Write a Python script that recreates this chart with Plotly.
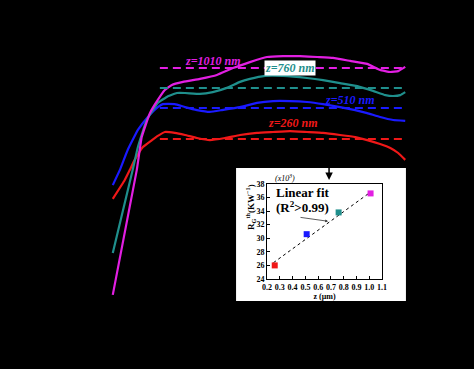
import plotly.graph_objects as go

# ---- main panel data (arbitrary units, axes are black on black in the reference) ----
mag_x = [0, 8.2, 9.9, 12.7, 15.4, 17.8, 20.2, 24.0, 29.8, 35.6, 41.1, 46.9, 52.7, 58.2, 64.0, 69.9, 75.3, 81.2, 87.0, 91.4, 94.9, 97.6, 100]
mag_y = [11.7, 53.3, 64.3, 72.3, 76.7, 80.0, 81.7, 82.7, 83.7, 85.0, 87.3, 89.3, 91.0, 91.3, 91.3, 91.0, 90.7, 89.7, 88.7, 86.7, 86.0, 86.3, 87.7]

teal_x = [0, 6.8, 8.6, 11.6, 15.4, 18.5, 21.9, 24.7, 29.8, 34.2, 39.0, 43.5, 46.9, 52.1, 58.2, 66.4, 71.9, 77.7, 83.6, 89.0, 93.2, 95.9, 98.3, 100]
teal_y = [25.7, 53.3, 61.0, 70.0, 75.7, 77.7, 79.0, 79.0, 78.7, 79.3, 80.7, 82.7, 83.7, 84.7, 84.7, 84.0, 83.3, 82.3, 81.3, 79.7, 78.3, 78.0, 78.3, 79.3]

blue_x = [0, 2.4, 5.1, 8.6, 12.0, 15.4, 17.1, 21.2, 24.7, 28.8, 33.2, 37.3, 43.5, 49.3, 54.8, 60.6, 66.4, 71.9, 77.7, 82.9, 87.0, 91.4, 95.9, 100]
blue_y = [48.3, 53.3, 60.0, 66.7, 71.0, 74.3, 75.3, 75.3, 74.3, 73.3, 72.7, 73.3, 74.3, 75.7, 76.3, 76.3, 76.0, 75.3, 74.3, 73.3, 72.3, 71.0, 70.0, 69.7]

red_x = [0, 4.1, 5.8, 7.5, 10.3, 13.4, 15.4, 17.8, 21.2, 24.7, 28.8, 33.2, 38.4, 43.5, 49.3, 54.8, 60.6, 66.4, 71.9, 77.7, 82.9, 87.0, 91.4, 94.9, 97.6, 100]
red_y = [43.7, 50.0, 53.3, 56.7, 61.0, 63.3, 64.7, 66.0, 65.7, 65.0, 64.0, 63.3, 64.0, 65.0, 65.7, 66.0, 66.3, 66.0, 65.7, 65.0, 64.3, 63.3, 62.0, 60.7, 59.0, 56.7]

# dashed reference levels
dash_x = [16.1, 100]
level_mag, level_teal, level_blue, level_red = 87.3, 80.7, 74.0, 63.7

labels = ["z=1010 nm", "z=760 nm", "z=510 nm", "z=260 nm"]

# ---- inset data ----
z_um = [0.26, 0.51, 0.76, 1.01]
rg = [26.0, 30.6, 33.8, 36.6]
fit_x = [0.25, 1.01]
fit_y = [26.4, 36.8]
inset_xticks = [0.2, 0.3, 0.4, 0.5, 0.6, 0.7, 0.8, 0.9, 1.0, 1.1]
inset_yticks = [24, 26, 28, 30, 32, 34, 36, 38]

MAG, TEAL, BLUE, RED = "#e21fe2", "#1f8f8c", "#1a1aff", "#f01818"
SERIF = "Liberation Serif, Times New Roman, serif"

fig = go.Figure()
for xs, ys, c in [(red_x, red_y, RED), (blue_x, blue_y, BLUE), (teal_x, teal_y, TEAL), (mag_x, mag_y, MAG)]:
    fig.add_trace(go.Scatter(x=xs, y=ys, mode="lines", line=dict(color=c, width=2.2, shape="spline", smoothing=0.3),
                             showlegend=False, hoverinfo="skip"))
for lv, c in [(level_mag, MAG), (level_teal, TEAL), (level_blue, BLUE), (level_red, RED)]:
    fig.add_trace(go.Scatter(x=dash_x, y=[lv, lv], mode="lines", line=dict(color=c, width=2, dash="8px,5px"),
                             showlegend=False, hoverinfo="skip"))

# inset
fig.add_trace(go.Scatter(x=fit_x, y=fit_y, mode="lines", line=dict(color="black", width=1, dash="dot"),
                         xaxis="x2", yaxis="y2", showlegend=False))
fig.add_trace(go.Scatter(x=z_um, y=rg, mode="markers",
                         marker=dict(symbol="square", size=6, color=[RED, BLUE, TEAL, MAG]),
                         xaxis="x2", yaxis="y2", showlegend=False))

fig.add_shape(type="rect", xref="paper", yref="paper", x0=0.426, x1=0.974, y0=0.097, y1=0.54,
              fillcolor="white", line=dict(width=0), layer="below")

ann_font = dict(family=SERIF, size=12)
fig.add_annotation(x=34.2, y=89.7, text="<b><i>" + labels[0] + "</i></b>", showarrow=False,
                   font=dict(**ann_font, color=MAG))
fig.add_annotation(x=60.6, y=87.3, text="<b><i>" + labels[1] + "</i></b>", showarrow=False,
                   font=dict(**ann_font, color=TEAL), bgcolor="white", borderpad=0)
fig.add_annotation(x=81.2, y=76.7, text="<b><i>" + labels[2] + "</i></b>", showarrow=False,
                   font=dict(**ann_font, color=BLUE))
fig.add_annotation(x=61.6, y=69.1, text="<b><i>" + labels[3] + "</i></b>", showarrow=False,
                   font=dict(**ann_font, color=RED))

fig.add_annotation(xref="x2", yref="y2", x=0.255, y=36.8, text="<b>Linear fit</b>", showarrow=False,
                   xanchor="left", font=dict(family=SERIF, size=13, color="black"))
fig.add_annotation(xref="x2", yref="y2", x=0.255, y=34.6, text="<b>(R<sup>2</sup>>0.99)</b>", showarrow=False,
                   xanchor="left", font=dict(family=SERIF, size=13, color="black"))
fig.add_annotation(xref="x2", yref="y2", x=0.677, y=32.5, axref="x2", ayref="y2", ax=0.45, ay=33.1,
                   showarrow=True, arrowhead=2, arrowsize=0.7, arrowwidth=0.8, arrowcolor="#333", text="")
fig.add_annotation(xref="paper", yref="paper", x=0.545, y=0.507, text="<i>(x10<sup>3</sup>)</i>", showarrow=False,
                   xanchor="left", font=dict(family=SERIF, size=8, color="black"))
fig.add_annotation(xref="paper", yref="paper", x=(250 - 104) / 310, y=(330 - 232) / 300,
                   text="<b>R<sub>G</sub><sup>th</sup>(KW<sup>−1</sup>)</b>", textangle=-90, showarrow=False,
                   font=dict(family=SERIF, size=9, color="black"))
fig.add_annotation(xref="paper", yref="paper", x=0.726, y=0.5, ax=0, ay=-20, showarrow=True,
                   arrowhead=2, arrowsize=1, arrowwidth=1.5, arrowcolor="black", text="")

tickfont = dict(family=SERIF, size=8, color="black")
fig.update_layout(
    width=474, height=369,
    margin=dict(l=104, r=60, t=30, b=39),
    paper_bgcolor="black", plot_bgcolor="rgba(0,0,0,0)",
    xaxis=dict(range=[-3, 103], visible=False),
    yaxis=dict(range=[0, 100], visible=False),
    xaxis2=dict(domain=[0.526, 0.897], anchor="y2", range=[0.2, 1.1], tickvals=inset_xticks,
                ticktext=[f"<b>{v:.1f}</b>" for v in inset_xticks], tickfont=tickfont, tickangle=0,
                showline=True, linecolor="black", linewidth=1, mirror=True, ticks="inside", ticklen=3,
                tickcolor="black", showgrid=False, zeroline=False,
                title=dict(text="<b>z (μm)</b>", font=dict(family=SERIF, size=8, color="black"), standoff=2)),
    yaxis2=dict(domain=[0.17, 0.487], anchor="x2", range=[24, 38], tickvals=inset_yticks,
                ticktext=[f"<b>{v}</b>" for v in inset_yticks], tickfont=tickfont,
                showline=True, linecolor="black", linewidth=1, mirror=True, ticks="inside", ticklen=3,
                tickcolor="black", showgrid=False, zeroline=False),
)
fig.write_html("out.html", config={"displayModeBar": False},
               post_script="document.body.style.margin='0';document.body.style.background='black';")
